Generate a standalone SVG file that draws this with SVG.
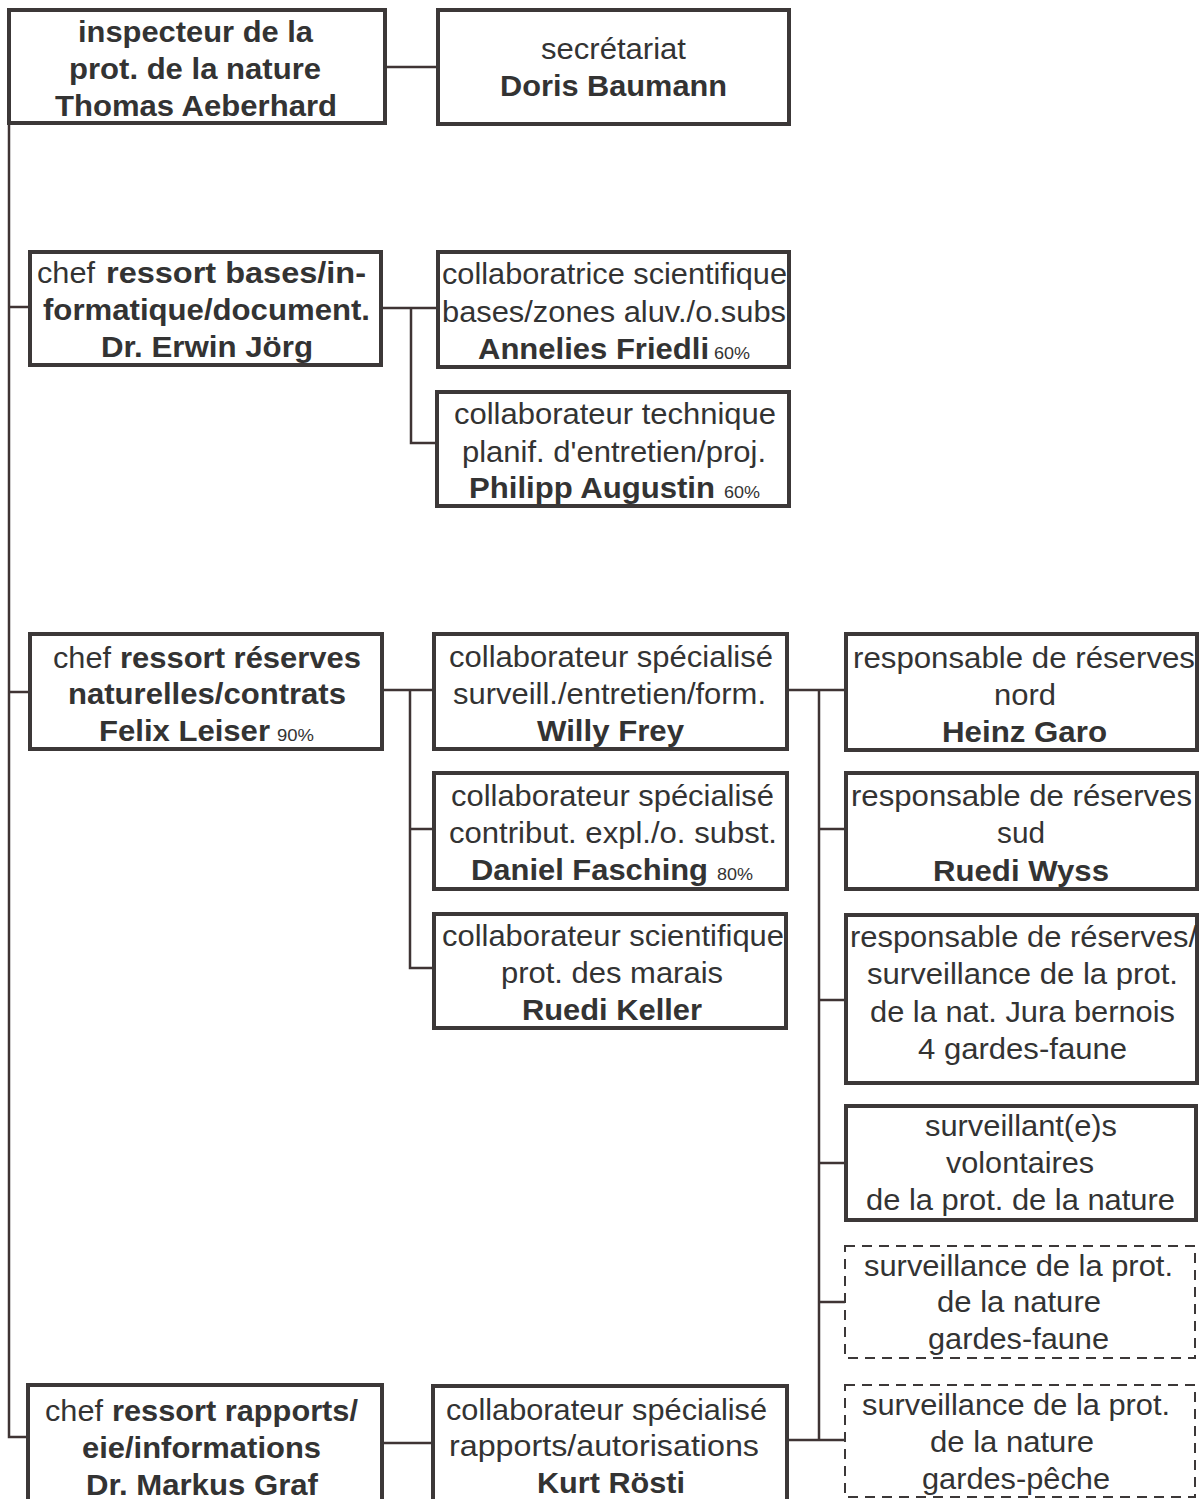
<svg xmlns="http://www.w3.org/2000/svg" width="1200" height="1499" viewBox="0 0 1200 1499">
<style>
.box{fill:#fff;stroke:#3c3838;stroke-width:4}
.dbox{fill:#fff;stroke:#3c3838;stroke-width:2;stroke-dasharray:10 7}
.con{fill:none;stroke:#3f3434;stroke-width:2.5}
text{font-family:"Liberation Sans",Arial,sans-serif;font-size:30px;fill:#333}
.b{font-weight:bold}
.s{font-size:16px}
</style>
<rect width="1200" height="1499" fill="#fff"/>
<g id="connectors">
<path class="con" d="M9 123V1437H28"/>
<path class="con" d="M385 67H438"/>
<path class="con" d="M9 307H30"/>
<path class="con" d="M9 692H30"/>
<path class="con" d="M381 308H438M411 308V443H437"/>
<path class="con" d="M382 690H434M410 690V968H434M410 829H434"/>
<path class="con" d="M787 690H846M819 690V1440M819 829H846M819 1000H846M819 1163H846M819 1302H845M787 1440H845"/>
<path class="con" d="M382 1443H433"/>
</g>
<g id="inspecteur">
<rect class="box" x="9" y="10" width="376" height="113"/>
<text class="b" x="78" y="42" textLength="235" lengthAdjust="spacingAndGlyphs">inspecteur de la</text>
<text class="b" x="69" y="79" textLength="252" lengthAdjust="spacingAndGlyphs">prot. de la nature</text>
<text class="b" x="55" y="116" textLength="282" lengthAdjust="spacingAndGlyphs">Thomas Aeberhard</text>
</g>
<g id="secretariat">
<rect class="box" x="438" y="10" width="351" height="114"/>
<text x="541" y="59" textLength="145" lengthAdjust="spacingAndGlyphs">secrétariat</text>
<text class="b" x="500" y="96" textLength="227" lengthAdjust="spacingAndGlyphs">Doris Baumann</text>
</g>
<g id="bases">
<rect class="box" x="30" y="252" width="351" height="113"/>
<text y="283"><tspan x="37" textLength="58" lengthAdjust="spacingAndGlyphs">chef</tspan><tspan class="b" x="106" textLength="260" lengthAdjust="spacingAndGlyphs">ressort bases/in-</tspan></text>
<text class="b" x="43" y="320" textLength="327" lengthAdjust="spacingAndGlyphs">formatique/document.</text>
<text class="b" x="101" y="357" textLength="212" lengthAdjust="spacingAndGlyphs">Dr. Erwin Jörg</text>
</g>
<g id="friedli">
<rect class="box" x="438" y="252" width="351" height="115"/>
<text x="442" y="284" textLength="345" lengthAdjust="spacingAndGlyphs">collaboratrice scientifique</text>
<text x="442" y="322" textLength="344" lengthAdjust="spacingAndGlyphs">bases/zones aluv./o.subs</text>
<text class="b" x="478" y="359" textLength="231" lengthAdjust="spacingAndGlyphs">Annelies Friedli</text>
<text class="s" x="714" y="359" textLength="36" lengthAdjust="spacingAndGlyphs">60%</text>
</g>
<g id="augustin">
<rect class="box" x="437" y="392" width="352" height="114"/>
<text x="454" y="424" textLength="322" lengthAdjust="spacingAndGlyphs">collaborateur technique</text>
<text x="462" y="462" textLength="304" lengthAdjust="spacingAndGlyphs">planif. d'entretien/proj.</text>
<text class="b" x="469" y="498" textLength="246" lengthAdjust="spacingAndGlyphs">Philipp Augustin</text>
<text class="s" x="724" y="498" textLength="36" lengthAdjust="spacingAndGlyphs">60%</text>
</g>
<g id="reserves">
<rect class="box" x="30" y="634" width="352" height="115"/>
<text y="668"><tspan x="53" textLength="58" lengthAdjust="spacingAndGlyphs">chef</tspan><tspan class="b" x="120" textLength="241" lengthAdjust="spacingAndGlyphs">ressort réserves</tspan></text>
<text class="b" x="68" y="704" textLength="278" lengthAdjust="spacingAndGlyphs">naturelles/contrats</text>
<text class="b" x="99" y="741" textLength="171" lengthAdjust="spacingAndGlyphs">Felix Leiser</text>
<text class="s" x="277" y="741" textLength="37" lengthAdjust="spacingAndGlyphs">90%</text>
</g>
<g id="frey">
<rect class="box" x="434" y="634" width="353" height="115"/>
<text x="449" y="667" textLength="324" lengthAdjust="spacingAndGlyphs">collaborateur spécialisé</text>
<text x="453" y="704" textLength="313" lengthAdjust="spacingAndGlyphs">surveill./entretien/form.</text>
<text class="b" x="537" y="741" textLength="147" lengthAdjust="spacingAndGlyphs">Willy Frey</text>
</g>
<g id="fasching">
<rect class="box" x="434" y="773" width="353" height="116"/>
<text x="451" y="806" textLength="323" lengthAdjust="spacingAndGlyphs">collaborateur spécialisé</text>
<text x="449" y="843" textLength="328" lengthAdjust="spacingAndGlyphs">contribut. expl./o. subst.</text>
<text class="b" x="471" y="880" textLength="237" lengthAdjust="spacingAndGlyphs">Daniel Fasching</text>
<text class="s" x="717" y="880" textLength="36" lengthAdjust="spacingAndGlyphs">80%</text>
</g>
<g id="keller">
<rect class="box" x="434" y="914" width="352" height="114"/>
<text x="442" y="946" textLength="342" lengthAdjust="spacingAndGlyphs">collaborateur scientifique</text>
<text x="501" y="983" textLength="222" lengthAdjust="spacingAndGlyphs">prot. des marais</text>
<text class="b" x="522" y="1020" textLength="180" lengthAdjust="spacingAndGlyphs">Ruedi Keller</text>
</g>
<g id="garo">
<rect class="box" x="846" y="634" width="351" height="116"/>
<text x="853" y="668" textLength="342" lengthAdjust="spacingAndGlyphs">responsable de réserves</text>
<text x="994" y="705" textLength="62" lengthAdjust="spacingAndGlyphs">nord</text>
<text class="b" x="942" y="742" textLength="165" lengthAdjust="spacingAndGlyphs">Heinz Garo</text>
</g>
<g id="wyss">
<rect class="box" x="846" y="773" width="351" height="116"/>
<text x="851" y="806" textLength="341" lengthAdjust="spacingAndGlyphs">responsable de réserves</text>
<text x="997" y="843" textLength="48" lengthAdjust="spacingAndGlyphs">sud</text>
<text class="b" x="933" y="881" textLength="176" lengthAdjust="spacingAndGlyphs">Ruedi Wyss</text>
</g>
<g id="jura">
<rect class="box" x="846" y="915" width="351" height="168"/>
<text x="850" y="947" textLength="347" lengthAdjust="spacingAndGlyphs">responsable de réserves/</text>
<text x="867" y="984" textLength="311" lengthAdjust="spacingAndGlyphs">surveillance de la prot.</text>
<text x="870" y="1022" textLength="305" lengthAdjust="spacingAndGlyphs">de la nat. Jura bernois</text>
<text x="918" y="1059" textLength="209" lengthAdjust="spacingAndGlyphs">4 gardes-faune</text>
</g>
<g id="volontaires">
<rect class="box" x="846" y="1106" width="350" height="114"/>
<text x="925" y="1136" textLength="192" lengthAdjust="spacingAndGlyphs">surveillant(e)s</text>
<text x="946" y="1173" textLength="148" lengthAdjust="spacingAndGlyphs">volontaires</text>
<text x="866" y="1210" textLength="309" lengthAdjust="spacingAndGlyphs">de la prot. de la nature</text>
</g>
<g id="gardes-faune">
<rect class="dbox" x="845" y="1246" width="350" height="112"/>
<text x="864" y="1276" textLength="309" lengthAdjust="spacingAndGlyphs">surveillance de la prot.</text>
<text x="937" y="1312" textLength="164" lengthAdjust="spacingAndGlyphs">de la nature</text>
<text x="928" y="1349" textLength="181" lengthAdjust="spacingAndGlyphs">gardes-faune</text>
</g>
<g id="gardes-peche">
<rect class="dbox" x="845" y="1385" width="350" height="112"/>
<text x="862" y="1415" textLength="308" lengthAdjust="spacingAndGlyphs">surveillance de la prot.</text>
<text x="930" y="1452" textLength="164" lengthAdjust="spacingAndGlyphs">de la nature</text>
<text x="922" y="1489" textLength="188" lengthAdjust="spacingAndGlyphs">gardes-pêche</text>
</g>
<g id="rapports">
<rect class="box" x="28" y="1385" width="354" height="120"/>
<text y="1421"><tspan x="45" textLength="58" lengthAdjust="spacingAndGlyphs">chef</tspan><tspan class="b" x="112" textLength="246" lengthAdjust="spacingAndGlyphs">ressort rapports/</tspan></text>
<text class="b" x="82" y="1458" textLength="239" lengthAdjust="spacingAndGlyphs">eie/informations</text>
<text class="b" x="86" y="1495" textLength="232" lengthAdjust="spacingAndGlyphs">Dr. Markus Graf</text>
</g>
<g id="roesti">
<rect class="box" x="433" y="1386" width="354" height="120"/>
<text x="446" y="1420" textLength="321" lengthAdjust="spacingAndGlyphs">collaborateur spécialisé</text>
<text x="449" y="1456" textLength="310" lengthAdjust="spacingAndGlyphs">rapports/autorisations</text>
<text class="b" x="537" y="1493" textLength="148" lengthAdjust="spacingAndGlyphs">Kurt Rösti</text>
</g>
</svg>
